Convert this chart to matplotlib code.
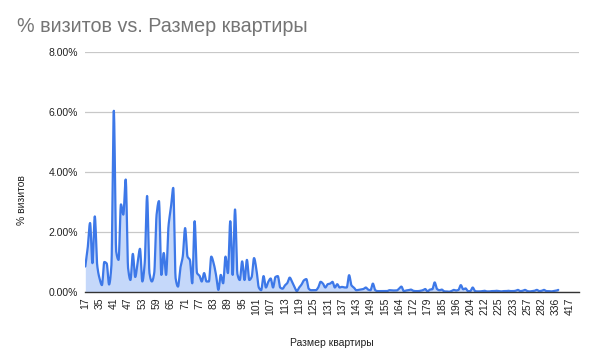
import numpy as np
import matplotlib
matplotlib.use("Agg")
import matplotlib.pyplot as plt

plt.rcParams['font.family'] = ['Liberation Sans', 'DejaVu Sans']

title = "% визитов vs. Размер квартиры"
x_label = "Размер квартиры"
y_label = "% визитов"

tick_labels = ["17", "35", "41", "47", "53", "59", "65", "71", "77", "83", "89", "95",
               "101", "107", "113", "119", "125", "131", "137", "143", "149", "155",
               "164", "172", "179", "185", "196", "204", "212", "225", "233", "257",
               "282", "336", "417"]
n_categories = 208
label_step = 6

# % visits per category (in category order)
visits_a = [0.85, 1.46, 2.30, 0.96, 2.52, 0.90, 0.45, 0.23, 1.00, 0.95,
            0.25, 0.90, 6.04, 1.35, 1.07, 2.92, 2.58, 3.75, 0.80, 0.40,
            1.27, 0.50, 0.96, 1.44, 0.35, 0.96, 3.20, 0.63, 0.35, 0.63,
            2.58, 3.03, 0.57, 1.30, 0.57, 2.19, 2.80, 3.47, 0.46, 0.18,
            0.80, 1.18, 2.13, 1.18, 1.07, 0.29, 2.36, 0.63, 0.55, 0.35,
            0.63, 0.35, 0.35, 1.18, 0.96, 0.57, 0.07, 0.57, 0.29, 1.18,
            0.63, 2.36, 0.57, 2.75, 0.60, 0.40, 1.02, 0.40, 1.07, 0.40]
visits_b = [0.50, 1.13, 0.75, 0.15, 0.06, 0.53, 0.15, 0.34, 0.45, 0.15,
            0.50, 0.53, 0.15, 0.11, 0.22, 0.30, 0.48, 0.34, 0.17, 0.03,
            0.15, 0.25, 0.39, 0.43, 0.11, 0.06, 0.06, 0.06, 0.15, 0.34,
            0.28, 0.15, 0.26, 0.28, 0.34, 0.15, 0.26, 0.15, 0.17, 0.15,
            0.15, 0.56, 0.22, 0.15, 0.06, 0.07, 0.08, 0.10, 0.15, 0.08,
            0.06, 0.28, 0.06, 0.03, 0.03, 0.03, 0.03, 0.03, 0.06, 0.05,
            0.05, 0.05, 0.11, 0.18, 0.03, 0.05, 0.06, 0.08, 0.04, 0.03]
visits_c = [0.03, 0.04, 0.06, 0.10, 0.02, 0.08, 0.09, 0.32, 0.10, 0.06,
            0.08, 0.02, 0.02, 0.01, 0.03, 0.07, 0.05, 0.07, 0.23, 0.09,
            0.12, 0.03, 0.03, 0.15, 0.03, 0.02, 0.02, 0.03, 0.04, 0.02,
            0.02, 0.03, 0.03, 0.04, 0.03, 0.02, 0.03, 0.03, 0.04, 0.03,
            0.03, 0.04, 0.07, 0.03, 0.04, 0.07, 0.03, 0.02, 0.03, 0.04,
            0.07, 0.03, 0.04, 0.07, 0.03, 0.03, 0.02, 0.03, 0.04, 0.07]

values = np.array(visits_a + visits_b + visits_c, dtype=float)
x = np.arange(len(values), dtype=float)


def monotone_smooth(xs, ys, samples=16):
    """Monotone cubic (Fritsch-Carlson) smoothing through the data points."""
    h = np.diff(xs)
    d = np.diff(ys) / h
    m = np.zeros_like(ys)
    m[0], m[-1] = d[0], d[-1]
    for i in range(1, len(ys) - 1):
        if d[i - 1] * d[i] <= 0:
            m[i] = 0.0
        else:
            w1 = 2 * h[i] + h[i - 1]
            w2 = h[i] + 2 * h[i - 1]
            m[i] = (w1 + w2) / (w1 / d[i - 1] + w2 / d[i])
    t = np.linspace(0, 1, samples, endpoint=False)
    out_x, out_y = [], []
    for i in range(len(xs) - 1):
        h00 = 2 * t ** 3 - 3 * t ** 2 + 1
        h10 = t ** 3 - 2 * t ** 2 + t
        h01 = -2 * t ** 3 + 3 * t ** 2
        h11 = t ** 3 - t ** 2
        out_x.append(xs[i] + t * h[i])
        out_y.append(h00 * ys[i] + h10 * h[i] * m[i] + h01 * ys[i + 1] + h11 * h[i] * m[i + 1])
    out_x.append([xs[-1]])
    out_y.append([ys[-1]])
    return np.concatenate(out_x), np.concatenate(out_y)


sx, sy = monotone_smooth(x, values)

fig = plt.figure(figsize=(5.95, 3.61), dpi=100)
ax = fig.add_axes([85.3 / 595, 1 - 292 / 361, (578.7 - 85.3) / 595, (292 - 52) / 361])

line_color = "#3d78e8"
ax.fill_between(sx, 0, sy, color="#c5d8fa", linewidth=0, zorder=2)
ax.plot(sx, sy, color=line_color, linewidth=1.6, zorder=3, solid_capstyle="round",
        solid_joinstyle="round")

ax.set_xlim(0, n_categories - 0.4)
ax.set_ylim(0, 8)
ax.set_yticks([0, 2, 4, 6, 8])
ax.set_yticklabels([f"{v:.2f}%" for v in [0, 2, 4, 6, 8]])
ax.yaxis.grid(True, color="#c8c8c8", linewidth=0.9, zorder=0)
ax.set_axisbelow(True)

tick_pos = np.arange(len(tick_labels)) * label_step
ax.set_xticks(tick_pos)
ax.set_xticklabels(tick_labels, rotation=90)

for s in ["top", "right", "left"]:
    ax.spines[s].set_visible(False)
ax.spines["bottom"].set_color("#333333")
ax.spines["bottom"].set_linewidth(1.0)
ax.spines["bottom"].set_zorder(4)
ax.tick_params(axis="both", length=0, labelsize=7.5, labelcolor="#222222")
ax.tick_params(axis="x", pad=4)
ax.tick_params(axis="y", pad=5)

fig.text(17 / 595, 1 - 27 / 361, title, fontsize=14.2, color="#757575", va="center", ha="left")
fig.text(332 / 595, 1 - 343 / 361, x_label, fontsize=7.5, color="#222222", ha="center", va="center")
fig.text(22 / 595, 1 - 200 / 361, y_label, fontsize=7.5, color="#222222", ha="center", va="center",
         rotation=90)

fig.savefig("out.png", dpi=100)
